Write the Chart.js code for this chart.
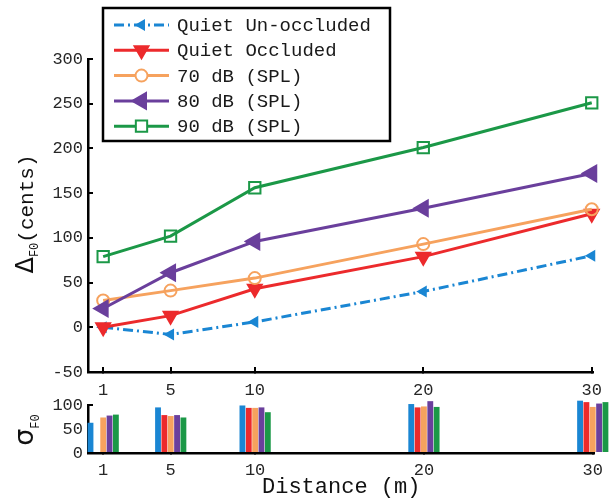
<!DOCTYPE html>
<html>
<head>
<meta charset="utf-8">
<script src="https://cdn.jsdelivr.net/npm/chart.js@4/dist/chart.umd.min.js"></script>
<style>
  html, body { margin: 0; padding: 0; background: #fff; }
  #wrap { position: relative; width: 615px; height: 498px; }
  #mainChart { position: absolute; left: 0; top: 0; }
  #sigmaChart { position: absolute; left: 0; top: 390px; }
</style>
</head>
<body>
<div id="wrap">
  <canvas id="mainChart" width="615" height="400"></canvas>
  <canvas id="sigmaChart" width="615" height="108"></canvas>
</div>
<script>
// distances (m) and series
const distances = [1, 5, 10, 20, 30];
const seriesNames = ['Quiet Un-occluded', 'Quiet Occluded', '70 dB (SPL)', '80 dB (SPL)', '90 dB (SPL)'];

// Delta F0 (cents)
const deltaQuietUnocc = [0, -8, 6, 40, 80];
const deltaQuietOcc = [0, 13, 43, 79, 127];
const delta70 = [30, 41, 55, 93, 132];
const delta80 = [21, 61, 96, 133, 172];
const delta90 = [79, 102, 156, 201, 251];

// sigma F0
const sigmaQuietUnocc = [63, 95, 99, 102, 109];
const sigmaQuietOcc = [null, 79, 94, 95, 106];
const sigma70 = [74, 77, 94, 97, 96];
const sigma80 = [78, 79, 95, 108, 103];
const sigma90 = [80, 74, 85, 96, 106];

const deltaSeries = [deltaQuietUnocc, deltaQuietOcc, delta70, delta80, delta90];
const sigmaSeries = [sigmaQuietUnocc, sigmaQuietOcc, sigma70, sigma80, sigma90];

const colors = ['#1a86d3', '#ec2a2c', '#f6a25e', '#6a3f9c', '#1b9847'];
const markers = [
  { pointStyle: 'triangle', radius: 5, rotation: 270, fill: true, dash: [10, 4, 2, 4] },
  { pointStyle: 'triangle', radius: 8, rotation: 180, fill: true, dash: [] },
  { pointStyle: 'circle', radius: 6, rotation: 0, fill: false, dash: [] },
  { pointStyle: 'triangle', radius: 9, rotation: 270, fill: true, dash: [] },
  { pointStyle: 'rect', radius: 8, rotation: 0, fill: false, dash: [] }
];

const mono = 'Liberation Mono, DejaVu Sans Mono, monospace';
const tickFont = { family: mono, size: 17 };
const tickColor = '#262626';

function axisStyle() {
  return {
    border: { color: '#000', width: 2.5 },
    grid: { drawOnChartArea: false, offset: false, color: '#000', lineWidth: 2, tickLength: -5 }
  };
}

function fixTicks(scale) {
  scale.ticks = distances.map(v => ({ value: v }));
}

// y titles with subscript, drawn rotated
function drawSubTitle(ctx, x, y, sym, symFont, symBase, sub, subBase, rest) {
  ctx.save();
  ctx.translate(x, y);
  ctx.rotate(-Math.PI / 2);
  ctx.fillStyle = '#111';
  ctx.textBaseline = 'alphabetic';
  ctx.textAlign = 'left';
  ctx.font = symFont;
  const w1 = ctx.measureText(sym).width;
  ctx.font = '12px ' + mono;
  const w2 = ctx.measureText(sub).width;
  ctx.font = '21px ' + mono;
  const w3 = rest ? ctx.measureText(rest).width : 0;
  let cx = -(w1 + w2 + w3) / 2;
  ctx.font = symFont;
  ctx.fillText(sym, cx, symBase);
  cx += w1;
  ctx.font = '12px ' + mono;
  ctx.fillText(sub, cx, subBase);
  cx += w2;
  if (rest) {
    ctx.font = '21px ' + mono;
    ctx.fillText(rest, cx, symBase);
  }
  ctx.restore();
}

const legendBox = {
  id: 'legendBox',
  afterDraw(chart) {
    const ctx = chart.ctx;
    ctx.save();
    ctx.fillStyle = '#fff';
    ctx.fillRect(103, 8, 287, 133);
    ctx.strokeStyle = '#000';
    ctx.lineWidth = 2.5;
    ctx.strokeRect(103, 8, 287, 133);
    seriesNames.forEach((name, i) => {
      const y = 25 + i * 25.3;
      const m = markers[i];
      ctx.strokeStyle = colors[i];
      ctx.lineWidth = 3;
      ctx.setLineDash(m.dash);
      ctx.beginPath();
      ctx.moveTo(114, y);
      ctx.lineTo(169, y);
      ctx.stroke();
      ctx.setLineDash([]);
      ctx.fillStyle = m.fill ? colors[i] : '#fff';
      ctx.lineWidth = 2;
      Chart.helpers.drawPoint(ctx, {
        pointStyle: m.pointStyle, radius: m.radius, rotation: m.rotation, borderWidth: 2
      }, 141.5, y);
      ctx.fillStyle = '#1a1a1a';
      ctx.font = '19px ' + mono;
      ctx.textBaseline = 'middle';
      ctx.textAlign = 'left';
      ctx.fillText(name, 177, y + 1);
    });
    ctx.restore();
    drawSubTitle(ctx, 25, 214, '\u0394', '24px DejaVu Sans', 8, 'F0', 13, '(cents)');
  }
};

new Chart(document.getElementById('mainChart'), {
  type: 'line',
  data: {
    datasets: seriesNames.map((name, i) => ({
      label: name,
      data: distances.map((d, j) => ({ x: d, y: deltaSeries[i][j] })),
      borderColor: colors[i],
      backgroundColor: markers[i].fill ? colors[i] : 'rgba(255,255,255,0)',
      borderWidth: 3,
      borderDash: markers[i].dash,
      pointStyle: markers[i].pointStyle,
      pointRadius: markers[i].radius,
      pointRotation: markers[i].rotation,
      pointBorderWidth: 2,
      pointBorderColor: colors[i],
      pointBackgroundColor: markers[i].fill ? colors[i] : 'rgba(255,255,255,0)',
      tension: 0,
      clip: false,
      order: 5 - i
    }))
  },
  options: {
    responsive: false,
    animation: false,
    layout: { padding: { top: 59, right: 15, left: 0, bottom: 0 } },
    plugins: { legend: { display: false }, tooltip: { enabled: false } },
    scales: {
      x: {
        type: 'linear', min: 0.1, max: 30.1,
        afterBuildTicks: fixTicks,
        afterFit: s => { s.height = 28; },
        ...axisStyle(),
        ticks: { font: tickFont, color: tickColor, padding: 13, maxRotation: 0, autoSkip: false }
      },
      y: {
        min: -50, max: 300,
        afterFit: s => { s.width = 88; },
        ...axisStyle(),
        ticks: { stepSize: 50, font: tickFont, color: tickColor, padding: 10, autoSkip: false }
      }
    }
  },
  plugins: [legendBox]
});

const sigmaTitle = {
  id: 'sigmaTitle',
  afterDraw(chart) {
    drawSubTitle(chart.ctx, 25, 40, '\u03c3', '27px DejaVu Sans', 8, 'F0', 14, '');
  }
};

new Chart(document.getElementById('sigmaChart'), {
  type: 'bar',
  data: {
    datasets: seriesNames.map((name, i) => ({
      label: name,
      data: distances.map((d, j) => ({ x: d, y: sigmaSeries[i][j] })),
      backgroundColor: colors[i],
      borderWidth: 0,
      categoryPercentage: 0.47,
      barPercentage: 0.92,
      clip: false
    }))
  },
  options: {
    responsive: false,
    animation: false,
    layout: { padding: { top: 15, right: 15, left: 0, bottom: 0 } },
    plugins: { legend: { display: false }, tooltip: { enabled: false } },
    scales: {
      x: {
        type: 'linear', min: 0.1, max: 30.1, offset: false,
        afterBuildTicks: fixTicks,
        afterFit: s => { s.height = 45; },
        ...axisStyle(),
        ticks: { font: tickFont, color: tickColor, padding: 12, maxRotation: 0, autoSkip: false },
        title: {
          display: true, text: 'Distance (m)', color: '#111',
          font: { family: mono, size: 22, lineHeight: 1 }, padding: { top: 0, bottom: 0 }
        }
      },
      y: {
        min: 0, max: 100,
        afterFit: s => { s.width = 88; s.paddingTop = 0; s.paddingBottom = 0; },
        ...axisStyle(),
        ticks: { stepSize: 50, font: tickFont, color: tickColor, padding: 10, autoSkip: false }
      }
    }
  },
  plugins: [sigmaTitle]
});
</script>
</body>
</html>
